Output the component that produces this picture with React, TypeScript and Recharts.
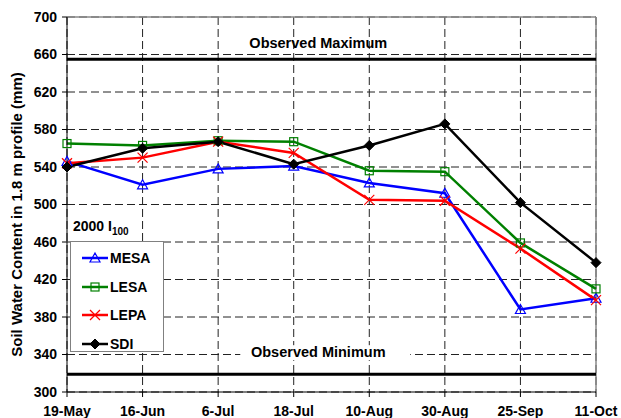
import React from "react";
import {
  LineChart,
  Line,
  XAxis,
  YAxis,
  CartesianGrid,
  ReferenceLine,
  Legend,
  Label,
} from "recharts";

const dates = ["19-May", "16-Jun", "6-Jul", "18-Jul", "10-Aug", "30-Aug", "25-Sep", "11-Oct"];
const mesa = [546, 521, 538, 541, 523, 512, 388, 400];
const lesa = [565, 563, 568, 567, 536, 535, 459, 410];
const lepa = [544, 550, 567, 555, 505, 504, 453, 398];
const sdi = [540, 560, 567, 543, 563, 586, 502, 438];
const yTicks = [300, 340, 380, 420, 460, 500, 540, 580, 620, 660, 700];
const observedMax = 655;
const observedMin = 319;

const FONT = "'Liberation Sans', Arial, sans-serif";

type MarkerKind = "triangle" | "square" | "cross" | "diamond";

const series: { key: string; name: string; color: string; marker: MarkerKind }[] = [
  { key: "mesa", name: "MESA", color: "#0000FF", marker: "triangle" },
  { key: "lesa", name: "LESA", color: "#008000", marker: "square" },
  { key: "lepa", name: "LEPA", color: "#FF0000", marker: "cross" },
  { key: "sdi", name: "SDI", color: "#000000", marker: "diamond" },
];

const data = dates.map((d, i) => ({ date: d, mesa: mesa[i], lesa: lesa[i], lepa: lepa[i], sdi: sdi[i] }));

function Marker({ kind, cx, cy, color }: { kind: MarkerKind; cx: number; cy: number; color: string }) {
  if (cx == null || cy == null) return null;
  switch (kind) {
    case "triangle":
      return <polygon points={`${cx},${cy - 5} ${cx + 5},${cy + 4} ${cx - 5},${cy + 4}`} fill="none" stroke={color} strokeWidth={1.2} />;
    case "square":
      return <rect x={cx - 4} y={cy - 4} width={8} height={8} fill="none" stroke={color} strokeWidth={1.2} />;
    case "cross":
      return (
        <g stroke={color} strokeWidth={1.2}>
          <line x1={cx - 5} y1={cy - 5} x2={cx + 5} y2={cy + 5} />
          <line x1={cx - 5} y1={cy + 5} x2={cx + 5} y2={cy - 5} />
        </g>
      );
    default:
      return <polygon points={`${cx},${cy - 5} ${cx + 5},${cy} ${cx},${cy + 5} ${cx - 5},${cy}`} fill={color} stroke={color} />;
  }
}

const YTitle = (props: any) => {
  const { x, y, height } = props.viewBox;
  const cx = x + 16;
  const cy = y + height / 2 + 10;
  return (
    <text x={cx} y={cy} transform={`rotate(-90, ${cx}, ${cy})`} textAnchor="middle" dominantBaseline="central"
      fontFamily={FONT} fontWeight="bold" fontSize={15} fill="#000">
      Soil Water Content in 1.8 m profile (mm)
    </text>
  );
};

const maxLabel = (props: any) => {
  const { x, y, width } = props.viewBox;
  return (
    <text x={x + width * 0.475} y={y - 11} textAnchor="middle" fontFamily={FONT} fontWeight="bold" fontSize={14.5} fill="#000">
      Observed Maximum
    </text>
  );
};

const minLabel = (props: any) => {
  const { x, y, width } = props.viewBox;
  const tx = x + width * 0.475;
  return (
    <g>
      <rect x={tx - 78} y={y - 29} width={170} height={15} fill="#fff" />
      <text x={tx} y={y - 17} textAnchor="middle" fontFamily={FONT} fontWeight="bold" fontSize={14.5} fill="#000">
        Observed Minimum
      </text>
    </g>
  );
};

const LegendBox = () => (
  <div style={{ fontFamily: FONT, fontWeight: "bold", fontSize: 14, color: "#000" }}>
    <div style={{ height: 25, paddingLeft: 3, lineHeight: "20px" }}>
      2000 I<sub style={{ fontSize: 10 }}>100</sub>
    </div>
    <div style={{ width: 92, height: 107, border: "1px solid #808080", background: "#fff", boxSizing: "content-box", paddingTop: 2 }}>
      {series.map((s) => (
        <div key={s.key} style={{ height: 28.5, display: "flex", alignItems: "center" }}>
          <svg width={39} height={14} style={{ display: "block" }}>
            <line x1={11} y1={7} x2={37} y2={7} stroke={s.color} strokeWidth={2.5} />
            <Marker kind={s.marker} cx={24} cy={7} color={s.color} />
          </svg>
          <span>{s.name}</span>
        </div>
      ))}
    </div>
  </div>
);

export default function App() {
  return (
    <div style={{ position: "absolute", left: 0, top: 0, background: "#fff" }}>
      <LineChart width={621} height={418} data={data} margin={{ top: 17, right: 25, bottom: 0, left: 0 }}>
        <CartesianGrid stroke="#222" strokeDasharray="8 4" strokeWidth={1} />
        <XAxis dataKey="date" interval={0} height={26} tickSize={5} tickMargin={9} stroke="#000"
          tick={{ fill: "#000", fontFamily: FONT, fontWeight: "bold", fontSize: 14 }} />
        <YAxis type="number" domain={[300, 700]} ticks={yTicks} width={67} tickSize={5} tickMargin={5} stroke="#000"
          tick={{ fill: "#000", fontFamily: FONT, fontWeight: "bold", fontSize: 14 }}>
          <Label content={YTitle} />
        </YAxis>
        <ReferenceLine y={700} stroke="#888" strokeWidth={1.5} />
        <ReferenceLine x="11-Oct" stroke="#888" strokeWidth={1.5} />
        <ReferenceLine y={observedMax} stroke="#000" strokeWidth={3} label={maxLabel} />
        <ReferenceLine y={observedMin} stroke="#000" strokeWidth={3} label={minLabel} />
        {series.map((s) => (
          <Line key={s.key} dataKey={s.key} name={s.name} type="linear" stroke={s.color} strokeWidth={2.5}
            isAnimationActive={false}
            dot={(p: any) => <Marker key={`${s.key}-${p.index}`} kind={s.marker} cx={p.cx} cy={p.cy} color={s.color} />}
            activeDot={false} />
        ))}
        <Legend layout="vertical" align="center" verticalAlign="middle" content={LegendBox}
          wrapperStyle={{ position: "absolute", left: 70, top: 216, width: "auto" }} />
      </LineChart>
    </div>
  );
}
